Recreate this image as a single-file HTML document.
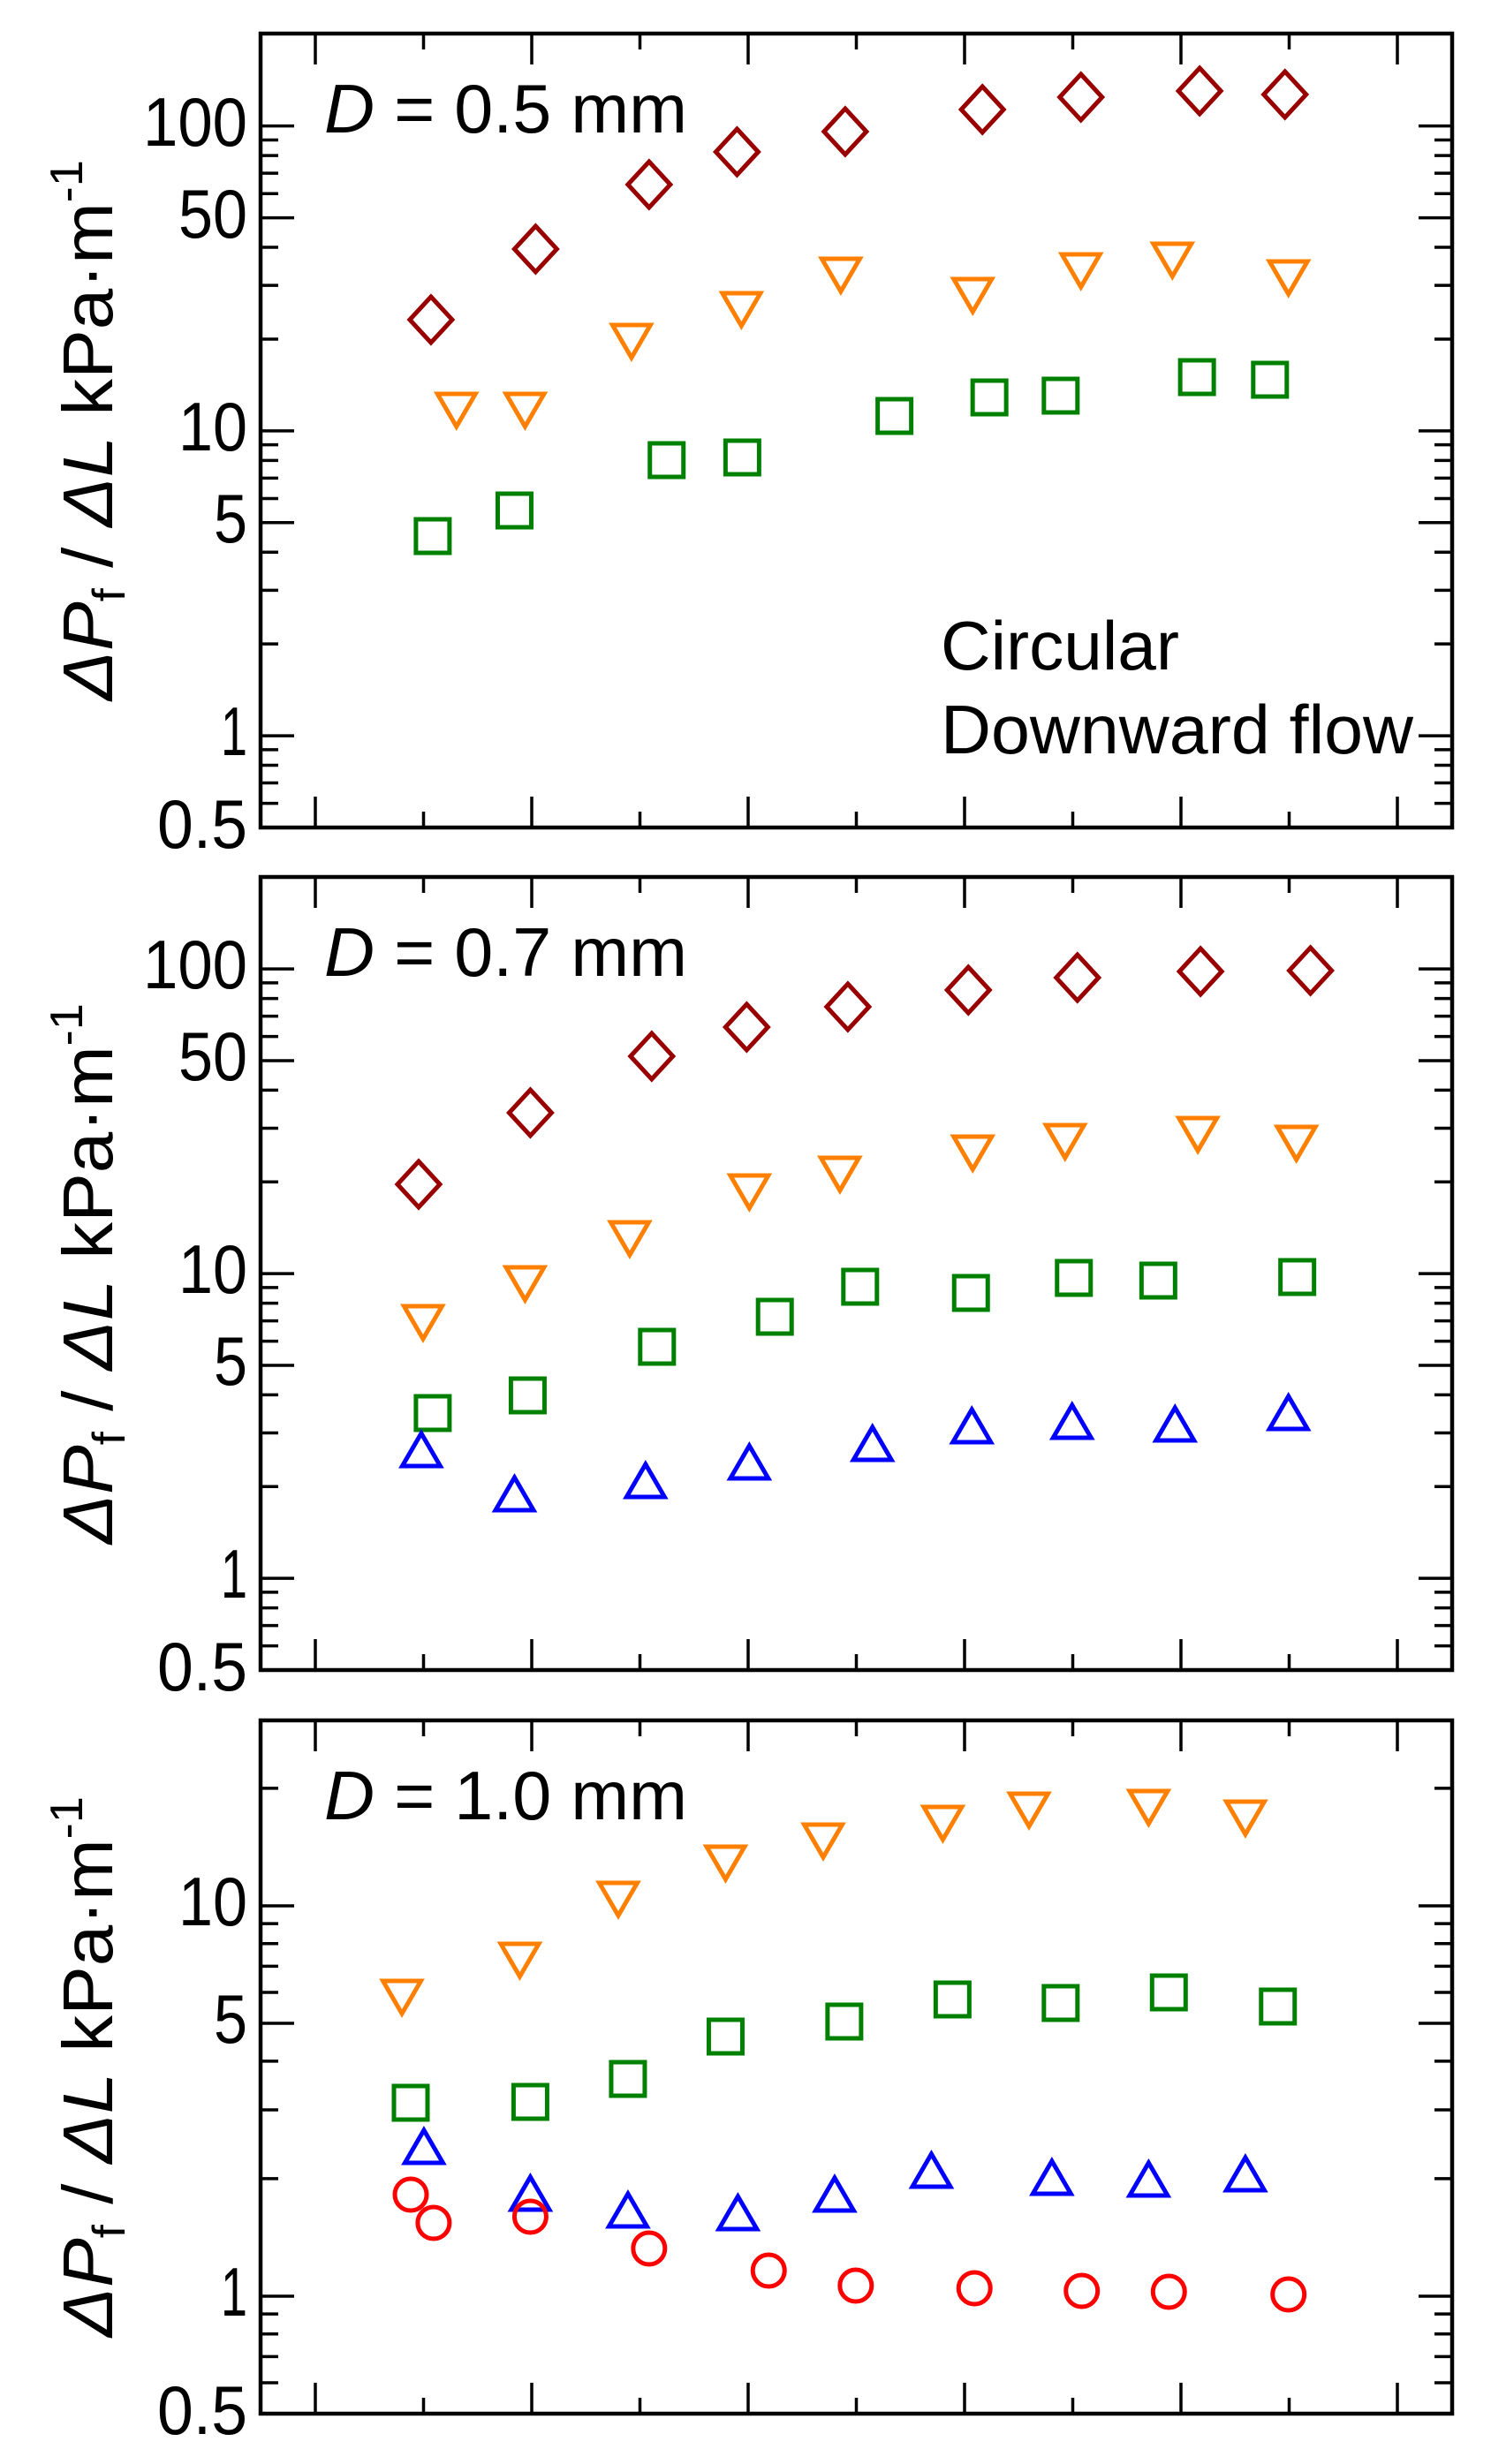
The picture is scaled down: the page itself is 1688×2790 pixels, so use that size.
<!DOCTYPE html>
<html><head><meta charset="utf-8"><style>
html,body{margin:0;padding:0;background:#fff}
svg{display:block}
text{font-family:"Liberation Sans",sans-serif;fill:#000}
</style></head><body>
<svg id="s" xmlns="http://www.w3.org/2000/svg" width="1688" height="2790" viewBox="0 0 1688 2790">
<g id="g"></g>
<g font-size="78" text-anchor="end" lengthAdjust="spacingAndGlyphs">
<text x="280" y="165" textLength="118" lengthAdjust="spacingAndGlyphs">100</text>
<text x="280" y="269" textLength="78" lengthAdjust="spacingAndGlyphs">50</text>
<text x="280" y="510" textLength="78" lengthAdjust="spacingAndGlyphs">10</text>
<text x="280" y="614" textLength="38" lengthAdjust="spacingAndGlyphs">5</text>
<text x="280" y="855" textLength="30" lengthAdjust="spacingAndGlyphs">1</text>
<text x="280" y="960" textLength="102" lengthAdjust="spacingAndGlyphs">0.5</text>
<text x="280" y="1119" textLength="118" lengthAdjust="spacingAndGlyphs">100</text>
<text x="280" y="1223" textLength="78" lengthAdjust="spacingAndGlyphs">50</text>
<text x="280" y="1464" textLength="78" lengthAdjust="spacingAndGlyphs">10</text>
<text x="280" y="1568" textLength="38" lengthAdjust="spacingAndGlyphs">5</text>
<text x="280" y="1809" textLength="30" lengthAdjust="spacingAndGlyphs">1</text>
<text x="280" y="1914" textLength="102" lengthAdjust="spacingAndGlyphs">0.5</text>
<text x="280" y="2180" textLength="78" lengthAdjust="spacingAndGlyphs">10</text>
<text x="280" y="2313" textLength="38" lengthAdjust="spacingAndGlyphs">5</text>
<text x="280" y="2622" textLength="30" lengthAdjust="spacingAndGlyphs">1</text>
<text x="280" y="2756" textLength="102" lengthAdjust="spacingAndGlyphs">0.5</text>
</g>
<g font-size="78">
<text x="367" y="150" textLength="411" lengthAdjust="spacingAndGlyphs"><tspan font-style="italic">D</tspan> = 0.5 mm</text>
<text x="367" y="1105" textLength="411" lengthAdjust="spacingAndGlyphs"><tspan font-style="italic">D</tspan> = 0.7 mm</text>
<text x="367" y="2060" textLength="411" lengthAdjust="spacingAndGlyphs"><tspan font-style="italic">D</tspan> = 1.0 mm</text>
<text x="1065" y="758" textLength="270" lengthAdjust="spacingAndGlyphs">Circular</text>
<text x="1065" y="853" textLength="535" lengthAdjust="spacingAndGlyphs">Downward flow</text>
</g>
<g font-size="80" text-anchor="middle">
<text transform="translate(127,487) rotate(-90)" textLength="612" lengthAdjust="spacingAndGlyphs"><tspan font-style="italic">ΔP</tspan><tspan font-size="52" dy="14">f</tspan><tspan dy="-14"> / </tspan><tspan font-style="italic">ΔL</tspan>  kPa·m<tspan font-size="52" dy="-34">-1</tspan></text>
<text transform="translate(127,1442) rotate(-90)" textLength="612" lengthAdjust="spacingAndGlyphs"><tspan font-style="italic">ΔP</tspan><tspan font-size="52" dy="14">f</tspan><tspan dy="-14"> / </tspan><tspan font-style="italic">ΔL</tspan>  kPa·m<tspan font-size="52" dy="-34">-1</tspan></text>
<text transform="translate(127,2340) rotate(-90)" textLength="612" lengthAdjust="spacingAndGlyphs"><tspan font-style="italic">ΔP</tspan><tspan font-size="52" dy="14">f</tspan><tspan dy="-14"> / </tspan><tspan font-style="italic">ΔL</tspan>  kPa·m<tspan font-size="52" dy="-34">-1</tspan></text>
</g>
</svg>
<script>
(function(){
var g=document.getElementById('g'),h='';
var L=295,R=1644;
var panels=[{t:38,b:937,d:345.2,max:200},{t:993,b:1891,d:345,max:200},{t:1948,b:2733,d:442,max:30}];
panels.forEach(function(p){
 h+='<rect x="'+L+'" y="'+p.t+'" width="'+(R-L)+'" height="'+(p.b-p.t)+'" fill="none" stroke="#000" stroke-width="4.5"/>';
 for(var i=0;i<11;i++){var x=357+122.5*i,len=(i%2==0)?35:18;
  h+='<line x1="'+x+'" y1="'+p.t+'" x2="'+x+'" y2="'+(p.t+len)+'" stroke="#000" stroke-width="3.5"/>';
  h+='<line x1="'+x+'" y1="'+p.b+'" x2="'+x+'" y2="'+(p.b-len)+'" stroke="#000" stroke-width="3.5"/>';}
 var vals=[];[0.1,1,10,100].forEach(function(dd){for(var k=1;k<10;k++)vals.push(k*dd);});
 vals.forEach(function(v){ if(v<0.5-1e-9||v>p.max+1e-9)return;
  var y=p.b-Math.log10(v/0.5)*p.d; if(y<p.t+3||y>p.b-3)return;
  var m=[1,5,10,50,100].some(function(q){return Math.abs(q-v)<1e-6;});var len=m?38:20;
  h+='<line x1="'+L+'" y1="'+y+'" x2="'+(L+len)+'" y2="'+y+'" stroke="#000" stroke-width="3.5"/>';
  h+='<line x1="'+R+'" y1="'+y+'" x2="'+(R-len)+'" y2="'+y+'" stroke="#000" stroke-width="3.5"/>';});
});
var SW=5;
function dia(x,y){h+='<path d="M'+x+' '+(y-26)+'L'+(x+24)+' '+y+'L'+x+' '+(y+26)+'L'+(x-24)+' '+y+'Z" fill="none" stroke="#990000" stroke-width="'+SW+'"/>';}
function tdn(x,t){h+='<path d="M'+(x-21.5)+' '+t+'L'+(x+21.5)+' '+t+'L'+x+' '+(t+37)+'Z" fill="none" stroke="#ff8000" stroke-width="'+SW+'"/>';}
function tup(x,b){h+='<path d="M'+(x-21.5)+' '+b+'L'+(x+21.5)+' '+b+'L'+x+' '+(b-37)+'Z" fill="none" stroke="#0000ff" stroke-width="'+SW+'"/>';}
function sq(x,y){h+='<rect x="'+(x-19)+'" y="'+(y-19)+'" width="38" height="38" fill="none" stroke="#008000" stroke-width="'+SW+'"/>';}
function ci(x,y){h+='<circle cx="'+x+'" cy="'+y+'" r="18" fill="none" stroke="#ff0000" stroke-width="'+SW+'"/>';}
function run(f,xs,ys){for(var i=0;i<xs.length;i++)f(xs[i]*0.9957,ys[i]);}
run(dia,[490,609,738,838,961,1117,1229,1364,1461],[362,282,209,172,149,124,110,103,107]);
run(tdn,[519,597,718,843,956,1106,1229,1333,1465],[446,446,368,332,293,316,288,276,296]);
run(sq,[492,585,758,844,1017,1125,1206,1361,1444],[607,578,521,518,471,450,448,427,430]);
run(dia,[476,603,741,849,964,1101,1225,1365,1490],[1341,1260,1196,1163,1140,1121,1107,1100,1099]);
run(tdn,[481,597,716,852,955,1106,1211,1362,1474],[1479,1435,1384,1331,1311,1287,1274,1266,1276]);
run(sq,[492,600,747,881,978,1104,1221,1317,1475],[1600,1580,1525,1491,1457,1464,1447,1450,1446]);
run(tup,[479,585,734,852,992,1105,1219,1336,1465],[1660,1710,1695,1674,1653,1633,1628,1631,1618]);
run(tdn,[457,591,703,825,936,1072,1170,1306,1416],[2243,2201,2132,2091,2066,2046,2031,2028,2040]);
run(sq,[467,603,714,825,960,1083,1206,1329,1453],[2381,2380,2354,2306,2289,2264,2268,2256,2272]);
run(tup,[482,603,714,839,949,1059,1196,1306,1416],[2449,2502,2521,2524,2503,2476,2484,2486,2480]);
run(ci,[467,493,603,738,874,973,1108,1230,1329,1465],[2485,2517,2510,2546,2571,2588,2591,2594,2595,2598]);
g.innerHTML=h;
})();
</script>
</body></html>
